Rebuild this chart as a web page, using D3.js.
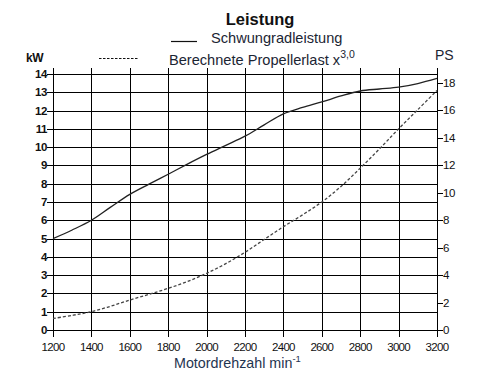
<!DOCTYPE html>
<html><head><meta charset="utf-8">
<script src="https://cdn.jsdelivr.net/npm/d3@7"></script>
<style>
html,body{margin:0;padding:0;background:#fff;}
svg{display:block;}
</style></head>
<body>
<svg id="c" width="488" height="384"></svg>
<script>
// ---- data ----
const rpmTicks = [1200,1400,1600,1800,2000,2200,2400,2600,2800,3000,3200];
const kwTicks = [0,1,2,3,4,5,6,7,8,9,10,11,12,13,14];
const psTicks = [0,2,4,6,8,10,12,14,16,18];
const flywheelRpm = [1200,1300,1400,1500,1600,1700,1800,1900,2000,2100,2200,2300,2400,2500,2600,2700,2800,2900,3000,3100,3200];
const flywheelKw  = [5.0,5.47,6.0,6.72,7.42,7.98,8.52,9.07,9.6,10.1,10.6,11.22,11.82,12.17,12.47,12.8,13.07,13.18,13.28,13.48,13.76];
const propRpm = [1200,1300,1400,1500,1600,1700,1800,1900,2000,2100,2200,2300,2400,2500,2600,2700,2800,2900,3000,3100,3200];
const propKw  = [0.63,0.8,1.0,1.3,1.64,1.95,2.28,2.65,3.1,3.63,4.25,4.95,5.65,6.3,7.0,7.85,8.85,9.9,11.0,12.05,13.1];

const svg = d3.select('#c');
const x = d3.scaleLinear().domain([1200,3200]).range([53,437]);
const y = d3.scaleLinear().domain([0,14]).range([330,74]);
const yPS = d3.scaleLinear().domain([0,18]).range([330,83]);
const tickFont = "'Liberation Sans Narrow','Arial Narrow','Liberation Sans',Arial,sans-serif";
const font = "'Liberation Sans',Arial,sans-serif";

// grid
const g = svg.append('g').attr('stroke','#000').attr('stroke-width',1.3).attr('shape-rendering','crispEdges');
g.selectAll('line.v').data(rpmTicks).join('line')
  .attr('x1',d=>Math.round(x(d))+0.5).attr('x2',d=>Math.round(x(d))+0.5)
  .attr('y1',68).attr('y2',337);
g.selectAll('line.h').data(kwTicks).join('line')
  .attr('x1',47).attr('x2',437)
  .attr('y1',d=>Math.round(y(d))+0.5).attr('y2',d=>Math.round(y(d))+0.5);
g.selectAll('line.p').data(psTicks).join('line')
  .attr('x1',437).attr('x2',443)
  .attr('y1',d=>Math.round(yPS(d))+0.5).attr('y2',d=>Math.round(yPS(d))+0.5);

// tick labels
svg.append('g').selectAll('text').data(kwTicks).join('text')
  .attr('x',47).attr('y',d=>y(d)+4).attr('text-anchor','end')
  .attr('font-family',tickFont).attr('font-size',11.5).attr('font-weight','bold').attr('fill','#111')
  .attr('letter-spacing',-0.4).text(d=>d);
svg.append('g').selectAll('text').data(psTicks).join('text')
  .attr('x',443).attr('y',d=>yPS(d)+4).attr('text-anchor','start')
  .attr('font-family',tickFont).attr('font-size',11.5).attr('fill','#111')
  .attr('letter-spacing',-0.4).text(d=>d);
svg.append('g').selectAll('text').data(rpmTicks).join('text')
  .attr('x',d=>x(d)).attr('y',351).attr('text-anchor','middle')
  .attr('font-family',tickFont).attr('font-size',11.5).attr('fill','#111')
  .attr('letter-spacing',-0.7).text(d=>d);

// curves
const line = d3.line().curve(d3.curveCatmullRom.alpha(0.5)).x(d=>x(d[0])).y(d=>y(d[1]));
svg.append('path').datum(flywheelRpm.map((r,i)=>[r,flywheelKw[i]]))
  .attr('d',line).attr('fill','none').attr('stroke','#222').attr('stroke-width',1.3);
svg.append('path').datum(propRpm.map((r,i)=>[r,propKw[i]]))
  .attr('d',line).attr('fill','none').attr('stroke','#444').attr('stroke-width',1.3)
  .attr('stroke-dasharray','3,2');

// title & legend
svg.append('text').attr('x',260).attr('y',25).attr('text-anchor','middle')
  .attr('font-family',font).attr('font-weight','bold').attr('font-size',16.5).attr('fill','#111').text('Leistung');
svg.append('line').attr('x1',171).attr('x2',197).attr('y1',41.5).attr('y2',41.5).attr('stroke','#111').attr('stroke-width',1.2);
svg.append('text').attr('x',211).attr('y',43).attr('font-family',font).attr('font-size',14.6).attr('fill','#1b2533').text('Schwungradleistung');
svg.append('line').attr('x1',99).attr('x2',138).attr('y1',58.5).attr('y2',58.5).attr('stroke','#111').attr('stroke-width',1.2).attr('stroke-dasharray','2.5,1.5');
const t2 = svg.append('text').attr('x',169).attr('y',65).attr('font-family',font).attr('font-size',14.6).attr('fill','#1b2533');
t2.append('tspan').text('Berechnete Propellerlast x');
t2.append('tspan').attr('dy',-7).attr('font-size',10.5).text('3,0');

svg.append('text').attr('x',26).attr('y',62).attr('font-family',tickFont).attr('font-weight','bold').attr('font-size',12).attr('letter-spacing',-0.5).attr('fill','#111').text('kW');
svg.append('text').attr('x',435).attr('y',60).attr('font-family',font).attr('font-size',14).attr('fill','#1b2533').text('PS');

const xl = svg.append('text').attr('x',174).attr('y',368).attr('font-family',font).attr('font-size',14.3).attr('fill','#1f3550');
xl.append('tspan').text('Motordrehzahl min');
xl.append('tspan').attr('dy',-6).attr('font-size',9.5).text('-1');
</script>
</body></html>
